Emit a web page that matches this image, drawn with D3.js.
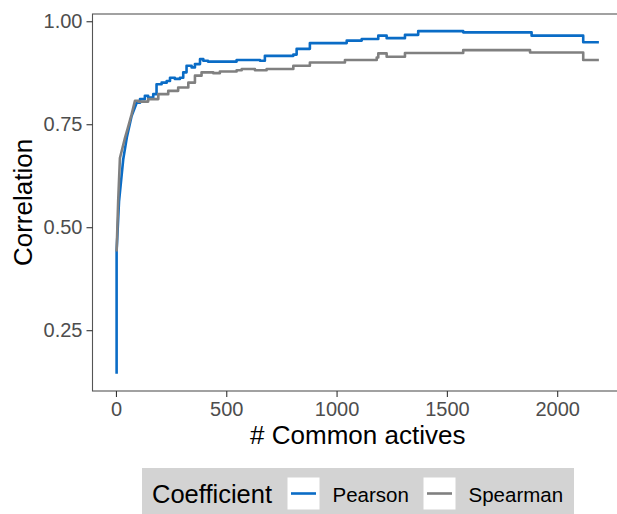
<!DOCTYPE html>
<html lang="en">
<head>
    <meta charset="UTF-8">
    <title>Correlation vs common actives</title>
    <style>
        body {
            margin: 0;
            background: #ffffff;
        }
        text {
            font-family: "Liberation Sans", Arial, sans-serif;
        }
    </style>
</head>
<body>
    <div class="vis"><svg width="617" height="514"></svg></div>
    <script src="https://cdnjs.cloudflare.com/ajax/libs/d3/7.8.5/d3.min.js"></script>
    <script>
        // values (x = # common actives, y = correlation)
        var pearsonX = [3, 3, 14, 33, 50, 71, 94, 109, 131, 146, 169, 184, 207, 230, 245, 267, 290, 305, 320, 343, 358, 381, 396, 417, 456, 547, 653, 675, 804, 819, 879, 1046, 1114, 1189, 1227, 1310, 1370, 1574, 1884, 2118, 2189];
        var pearsonY = [0.144, 0.441, 0.563, 0.665, 0.72, 0.77, 0.802, 0.811, 0.819, 0.815, 0.823, 0.847, 0.851, 0.855, 0.863, 0.86, 0.863, 0.876, 0.892, 0.888, 0.896, 0.908, 0.904, 0.902, 0.902, 0.906, 0.904, 0.916, 0.919, 0.933, 0.947, 0.953, 0.957, 0.965, 0.959, 0.967, 0.976, 0.973, 0.965, 0.949, 0.949];

        var spearmanX = [3, 10, 18, 26, 41, 54, 71, 86, 101, 146, 192, 237, 282, 328, 358, 388, 441, 471, 547, 570, 630, 683, 804, 879, 1038, 1182, 1189, 1227, 1310, 1574, 1877, 2118, 2189];
        var spearmanY = [0.441, 0.563, 0.668, 0.685, 0.717, 0.741, 0.774, 0.807, 0.805, 0.811, 0.823, 0.831, 0.839, 0.851, 0.868, 0.876, 0.874, 0.878, 0.881, 0.884, 0.881, 0.884, 0.892, 0.9, 0.906, 0.912, 0.922, 0.914, 0.923, 0.93, 0.924, 0.906, 0.906];

        var xTicks = [0, 500, 1000, 1500, 2000];
        var yTicks = [0.25, 0.5, 0.75, 1.0];
        var seriesNames = ["Pearson", "Spearman"];
        var seriesColors = ["#0a6cc6", "#808080"];

        // below this many actives the steps are too fine to see, the curve reads as smooth
        var smoothUntil = 100;

        var series = [
            pearsonX.map((x, i) => ({ x: x, y: pearsonY[i] })),
            spearmanX.map((x, i) => ({ x: x, y: spearmanY[i] }))
        ];

        var svg = d3.select('.vis svg');

        var panel = { left: 92.5, right: 623, top: 14, bottom: 391 };

        // ggplot style 5% expansion
        var allX = pearsonX.concat(spearmanX);
        var allY = pearsonY.concat(spearmanY);
        var xExt = d3.extent(allX), yExt = d3.extent(allY);
        var xPad = (xExt[1] - xExt[0]) * 0.05, yPad = (yExt[1] - yExt[0]) * 0.05;

        var xScale = d3.scaleLinear()
            .domain([xExt[0] - xPad, xExt[1] + xPad])
            .range([panel.left, panel.right]);

        var yScale = d3.scaleLinear()
            .domain([yExt[0] - yPad, yExt[1] + yPad])
            .range([panel.bottom, panel.top]);

        svg.append('clipPath')
            .attr('id', 'clip')
            .append('rect')
            .attr('x', panel.left)
            .attr('y', panel.top)
            .attr('width', panel.right - panel.left)
            .attr('height', panel.bottom - panel.top);

        var smoothLine = d3.line()
            .x(d => xScale(d.x))
            .y(d => yScale(d.y));

        var stepLine = d3.line()
            .x(d => xScale(d.x))
            .y(d => yScale(d.y))
            .curve(d3.curveStepAfter);

        // one path: linear through the dense start, steps after
        function seriesPath(d) {
            var k = d.findIndex(p => p.x > smoothUntil);
            var head = d.slice(0, k);
            var tail = d.slice(k - 1);
            return smoothLine(head) + stepLine(tail).replace(/^M/, 'L');
        }

        svg.selectAll('path.series')
            .data(series)
            .enter()
            .append('path')
            .attr('class', 'series')
            .attr('clip-path', 'url(#clip)')
            .attr('d', seriesPath)
            .attr('fill', 'none')
            .attr('stroke', (d, i) => seriesColors[i])
            .attr('stroke-width', 2.6)
            .attr('stroke-linejoin', 'round');

        // panel border
        svg.append('rect')
            .attr('x', panel.left)
            .attr('y', panel.top)
            .attr('width', panel.right - panel.left)
            .attr('height', panel.bottom - panel.top)
            .attr('fill', 'none')
            .attr('stroke', '#555555')
            .attr('stroke-width', 1.1);

        var xAxis = svg.append('g')
            .attr('transform', `translate(0, ${panel.bottom})`)
            .call(d3.axisBottom(xScale).tickValues(xTicks).tickSize(6).tickPadding(5).tickFormat(d3.format('d')));

        var yAxis = svg.append('g')
            .attr('transform', `translate(${panel.left}, 0)`)
            .call(d3.axisLeft(yScale).tickValues(yTicks).tickSize(6).tickPadding(4).tickFormat(d3.format('.2f')));

        [xAxis, yAxis].forEach(function (ax) {
            ax.select('.domain').remove();
            ax.selectAll('.tick line').attr('stroke', '#333333').attr('stroke-width', 1.1);
            ax.selectAll('.tick text')
                .attr('fill', '#4d4d4d')
                .style('font-size', '20px')
                .style('font-family', '"Liberation Sans", Arial, sans-serif');
        });

        svg.append('text')
            .attr('x', (panel.left + panel.right) / 2)
            .attr('y', 444)
            .attr('text-anchor', 'middle')
            .style('font-size', '26px')
            .attr('fill', '#000000')
            .text('# Common actives');

        svg.append('text')
            .attr('transform', `translate(32, ${(panel.top + panel.bottom) / 2}) rotate(-90)`)
            .attr('text-anchor', 'middle')
            .style('font-size', '26px')
            .attr('fill', '#000000')
            .text('Correlation');

        // legend
        var legend = svg.append('g');

        legend.append('rect')
            .attr('x', 142)
            .attr('y', 468)
            .attr('width', 432)
            .attr('height', 60)
            .attr('fill', '#d3d3d3');

        legend.append('text')
            .attr('x', 152)
            .attr('y', 503)
            .style('font-size', '25.5px')
            .attr('fill', '#000000')
            .text('Coefficient');

        var keyX = [287.5, 423.5];

        var keys = legend.selectAll('g.key')
            .data(seriesNames)
            .enter()
            .append('g')
            .attr('class', 'key')
            .attr('transform', (d, i) => `translate(${keyX[i]}, 477.5)`);

        keys.append('rect')
            .attr('width', 32)
            .attr('height', 32)
            .attr('fill', '#ffffff');

        keys.append('line')
            .attr('x1', 3.5)
            .attr('x2', 28.5)
            .attr('y1', 16)
            .attr('y2', 16)
            .attr('stroke', (d, i) => seriesColors[i])
            .attr('stroke-width', 2.6);

        keys.append('text')
            .attr('x', 45)
            .attr('y', 24)
            .style('font-size', '20.5px')
            .attr('fill', '#000000')
            .text(d => d);
    </script>
</body>
</html>
